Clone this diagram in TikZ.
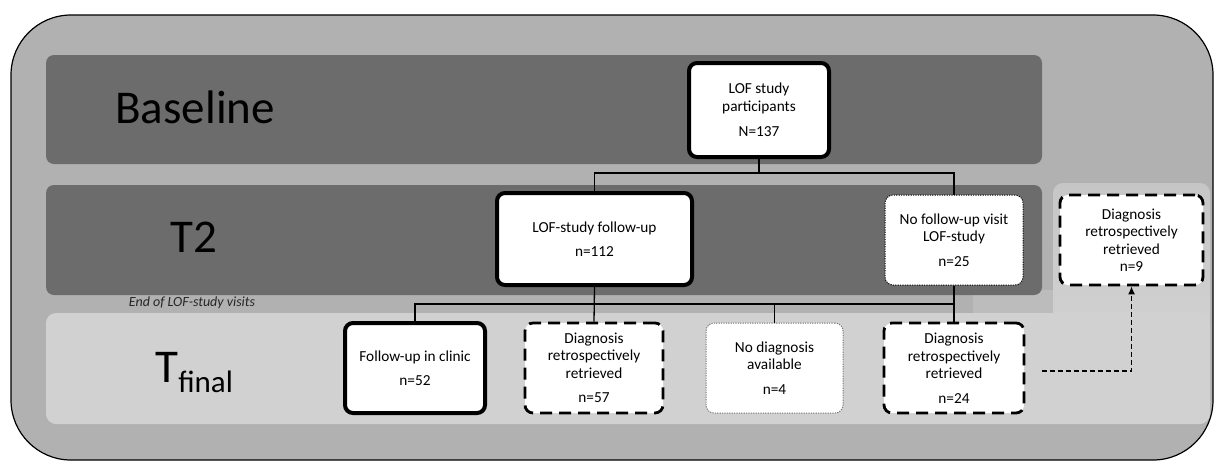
\documentclass[tikz,border=0pt]{standalone}
\usepackage{fontspec}
\setmainfont{Carlito}
\usetikzlibrary{arrows.meta}
\definecolor{outerc}{HTML}{B1B1B1}
\definecolor{darkband}{HTML}{6C6C6C}
\definecolor{lightband}{HTML}{D1D1D1}
\definecolor{colc}{HTML}{C6C6C6}
\definecolor{stripc}{HTML}{BCBCBC}
\begin{document}
\begin{tikzpicture}[x=0.5pt,y=-0.5pt,
  boxbase/.style={fill=white, rounded corners=4pt, align=center, inner sep=0pt,
    font=\fontsize{7.65pt}{8.75pt}\selectfont},
  thickbox/.style={boxbase, draw=black, line width=2pt},
  dashbox/.style={boxbase, draw=black, line width=1.4pt, dash pattern=on 6pt off 3.5pt},
  dotbox/.style={boxbase, draw=black, line width=0.5pt, dash pattern=on 0.6pt off 0.6pt},
  greybox/.style={boxbase, draw=black!55, line width=0.5pt, dash pattern=on 0.6pt off 0.6pt},
  conn/.style={draw=black, line width=0.65pt},
  arr/.style={draw=black, line width=0.6pt, dash pattern=on 2.5pt off 1.5pt, -{Latex[length=4pt,width=3.5pt]}},
  biglabel/.style={anchor=base west, inner sep=0pt, font=\fontsize{23.5pt}{28pt}\selectfont},
]
\useasboundingbox (0,0) rectangle (1214,462);
% background panels
\draw[fill=outerc, line width=0.6pt, rounded corners=30pt] (11,15) rectangle (1213,460);
\fill[darkband, rounded corners=4pt] (46,55) rectangle (1042,164);
\fill[stripc] (973,290) rectangle (1053,316);
\shade[top color=colc, bottom color=lightband, rounded corners=5pt] (1053,183) rectangle (1210,330);
\fill[darkband, rounded corners=4pt] (46,185) rectangle (1042,295);
\fill[lightband, rounded corners=5pt] (46,313) rectangle (1210,424);
% labels
\node[biglabel] (lb) at (115,123) {Baseline};
\node[biglabel] (lt2) at (170,252) {T2};
\node[biglabel] (ltf) at (155,382) {T\raisebox{-5pt}{\fontsize{15.5pt}{18pt}\selectfont final}};
\node[inner sep=0pt, text=black!85, font=\fontsize{7pt}{8pt}\selectfont\itshape] (endl) at (192,303) {End of LOF-study visits};
% nodes
\node[thickbox, minimum width=70pt, minimum height=47pt] (part) at (759,110)
  {LOF study\\participants\\[4pt]N=137};
\node[thickbox, minimum width=97.5pt, minimum height=46pt] (fu) at (594.5,239)
  {LOF-study follow-up\\[3pt]n=112};
\node[dotbox, minimum width=69pt, minimum height=45pt] (nofu) at (954,240)
  {No follow-up visit\\LOF-study\\[3.5pt]n=25};
\node[dashbox, minimum width=71.5pt, minimum height=45pt] (d9) at (1131.5,240)
  {Diagnosis\\retrospectively\\retrieved\\n=9};
\node[thickbox, minimum width=70pt, minimum height=45pt] (clinic) at (415,368)
  {Follow-up in clinic\\[3.5pt]n=52};
\node[dashbox, minimum width=69pt, minimum height=45pt] (d57) at (594,368)
  {Diagnosis\\retrospectively\\retrieved\\[3.5pt]n=57};
\node[greybox, minimum width=68.5pt, minimum height=45pt] (nod) at (774.5,368)
  {No diagnosis\\available\\[3.5pt]n=4};
\node[dashbox, minimum width=70pt, minimum height=45pt] (d24) at (954,368)
  {Diagnosis\\retrospectively\\retrieved\\[3.5pt]n=24};
% connectors
\coordinate (b1) at (0,173);
\coordinate (b2) at (0,304);
\coordinate (as) at (1042,371);
\begin{scope}[on background layer/.try]
\end{scope}
\draw[conn] (part.south) -- (part.south |- b1) -| (fu.north);
\draw[conn] (part.south |- b1) -| (nofu.north);
\draw[conn] (clinic.north) |- (nofu.south |- b2);
\draw[conn] (fu.south) -- (d57.north);
\draw[conn] (nod.north) -- (nod.north |- b2);
\draw[conn] (nofu.south) -- (d24.north);
\draw[arr] (as) -| (d9.south);
\end{tikzpicture}
\end{document}
